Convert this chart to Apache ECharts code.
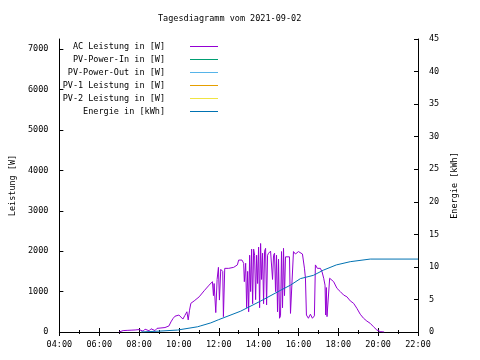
<!DOCTYPE html>
<html><head><meta charset="utf-8">
<script src="https://cdn.jsdelivr.net/npm/echarts@6/dist/echarts.min.js"></script>
<style>html,body{margin:0;padding:0;background:#fff}#c{width:480px;height:360px}</style>
</head><body><div id="c"></div>
<script>
const chartTitle = 'Tagesdiagramm vom 2021-09-02';
const seriesNames = ['AC Leistung in [W]', 'PV-Power-In in [W]', 'PV-Power-Out in [W]', 'PV-1 Leistung in [W]', 'PV-2 Leistung in [W]', 'Energie in [kWh]'];
const seriesColors = ['#9400d3', '#009e73', '#56b4e9', '#e69f00', '#f0e442', '#0072b2'];
const xTickLabels = ['04:00', '06:00', '08:00', '10:00', '12:00', '14:00', '16:00', '18:00', '20:00', '22:00'];

const acTimes = ['07:00','07:06','07:12','07:18','07:24','07:30','07:36','07:42','07:48','07:54','08:00','08:06','08:12','08:18','08:24','08:30','08:36','08:42','08:48','08:54','09:00','09:06','09:12','09:18','09:24','09:30','09:36','09:42','09:48','09:54','10:00','10:06','10:12','10:18','10:24','10:28','10:32','10:36','10:46','11:01','11:16','11:31','11:41','11:44','11:46','11:51','11:55','11:59','12:02','12:06','12:12','12:14','12:18','12:30','12:45','12:56','13:00','13:10','13:15','13:17','13:21','13:24','13:27','13:30','13:33','13:36','13:39','13:42','13:45','13:48','13:51','13:54','13:57','14:00','14:03','14:06','14:09','14:12','14:15','14:18','14:21','14:24','14:27','14:30','14:36','14:42','14:45','14:48','14:51','14:54','14:57','15:00','15:03','15:06','15:09','15:12','15:15','15:18','15:21','15:33','15:36','15:42','15:45','15:51','16:00','16:12','16:18','16:21','16:24','16:30','16:36','16:42','16:48','16:51','16:57','17:06','17:11','17:16','17:20','17:22','17:24','17:26','17:30','17:34','17:46','17:56','18:06','18:16','18:26','18:36','18:46','18:56','19:06','19:16','19:26','19:36','19:46','19:56','20:06','20:12','20:18'];
const acValues = [0,20,35,10,40,35,45,15,50,55,60,65,20,70,75,30,80,85,35,90,95,100,105,110,115,150,250,330,390,420,420,420,320,410,500,300,540,710,770,870,1020,1160,1245,900,1200,480,1300,1600,790,1550,1500,380,1575,1575,1600,1660,1780,1780,1700,1245,1700,600,1500,500,1900,1000,2050,700,2050,1900,800,1900,1200,2100,600,2190,1300,1950,700,2000,2070,670,1900,1950,2000,1300,1900,1950,1000,1900,500,1800,340,400,1990,600,2070,900,1860,1860,460,460,1990,1930,1990,1930,1580,1340,420,340,440,340,400,1660,1575,1575,1490,1330,1160,420,1100,380,380,1330,1245,1080,1000,915,870,770,710,585,440,340,270,215,130,50,10,20,0];

const energyTimes = ['08:06','09:06','09:56','10:56','11:06','11:36','12:00','13:06','14:06','15:06','15:36','16:06','16:45','17:15','17:54','18:36','19:36','22:00'];
const energyValues = [0,0.15,0.3,0.8,0.95,1.4,1.9,3.2,4.75,6.4,7.2,8.2,8.7,9.5,10.3,10.8,11.2,11.2];

function toH(s) { const p = s.split(':'); return +p[0] + (+p[1]) / 60; }
const FONT = 'DejaVu Sans Mono';
const FS = 8.5;

const acData = acTimes.map((t, i) => [toH(t), acValues[i]]);
const energyData = energyTimes.map((t, i) => [toH(t), energyValues[i]]);
const dataFor = [acData, [], [], [], [], energyData];

const chart = echarts.init(document.getElementById('c'), null, {renderer: 'canvas'});
const xCommon = {
  type: 'value', min: 4, max: 22, interval: 2,
  axisLine: {show: true, lineStyle: {color: '#000', width: 1}},
  axisTick: {show: true, inside: true, length: 4, lineStyle: {color: '#000'}},
  minorTick: {show: true, splitNumber: 2, length: 2, lineStyle: {color: '#000'}},
  splitLine: {show: false}, minorSplitLine: {show: false}
};
chart.setOption({
  animation: false,
  textStyle: {fontFamily: FONT, color: '#000'},
  title: {text: chartTitle, left: 153, top: 9, textStyle: {fontFamily: FONT, fontSize: FS, fontWeight: 'normal', color: '#000'}},
  legend: {
    orient: 'vertical', right: 262, top: 40, padding: 0, align: 'right',
    icon: 'rect', itemWidth: 28, itemHeight: 1, itemGap: 0,
    data: seriesNames,
    textStyle: {fontFamily: FONT, fontSize: FS, lineHeight: 13, color: '#000', padding: [0, 20, 0, 0]}
  },
  grid: {left: 58, top: 39, width: 360, height: 293, containLabel: false},
  xAxis: [
    Object.assign({}, xCommon, {position: 'bottom',
      axisLabel: {margin: 8, fontFamily: FONT, fontSize: FS, color: '#000', formatter: v => xTickLabels[Math.round((v - 4) / 2)]}}),
    Object.assign({}, xCommon, {position: 'top', axisLabel: {show: false}})
  ],
  yAxis: [
    {type: 'value', min: 0, max: 7250, interval: 1000, position: 'left',
     name: 'Leistung [W]', nameLocation: 'middle', nameGap: 36, nameRotate: 90,
     nameTextStyle: {fontFamily: FONT, fontSize: FS, color: '#000'},
     axisLine: {show: true, lineStyle: {color: '#000'}},
     axisTick: {show: true, inside: true, length: 4, lineStyle: {color: '#000'}},
     axisLabel: {margin: 11, fontFamily: FONT, fontSize: FS, color: '#000', showMaxLabel: false,
       formatter: v => (v % 1000 === 0 ? String(v) : '')},
     splitLine: {show: false}},
    {type: 'value', min: 0, max: 45, interval: 5, position: 'right',
     name: 'Energie [kWh]', nameLocation: 'middle', nameGap: 29, nameRotate: 90,
     nameTextStyle: {fontFamily: FONT, fontSize: FS, color: '#000'},
     axisLine: {show: true, lineStyle: {color: '#000'}},
     axisTick: {show: true, inside: true, length: 4, lineStyle: {color: '#000'}},
     axisLabel: {margin: 11, fontFamily: FONT, fontSize: FS, color: '#000'},
     splitLine: {show: false}}
  ],
  series: seriesNames.map((n, i) => ({
    name: n, type: 'line', xAxisIndex: 0, yAxisIndex: i === 5 ? 1 : 0,
    data: dataFor[i], symbol: 'none', showSymbol: false,
    color: seriesColors[i],
    lineStyle: {color: seriesColors[i], width: 1},
    z: i === 5 ? 3 : 2
  }))
});
</script></body></html>
